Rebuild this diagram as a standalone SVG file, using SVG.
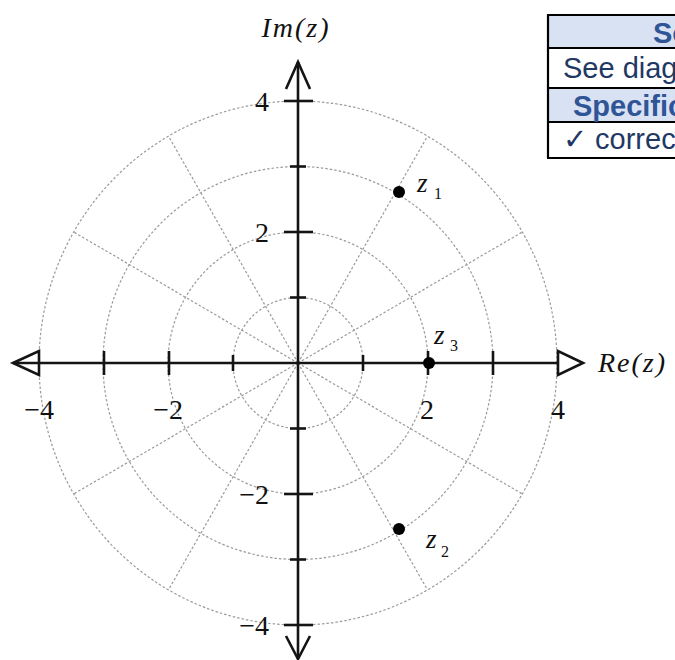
<svg xmlns="http://www.w3.org/2000/svg" width="675" height="660" viewBox="0 0 675 660">
<style>
.grid{fill:none;stroke:#9a9a9a;stroke-width:1.2;stroke-dasharray:2.5 2}
.ax{stroke:#141414;stroke-width:2.6;fill:none}
.tk{stroke:#141414;stroke-width:2.6}
.num{font-family:"Liberation Serif",serif;font-size:28px;fill:#111}
.lab{font-family:"Liberation Serif",serif;font-style:italic;font-size:28px;fill:#111;letter-spacing:2px}
.zl{font-family:"Liberation Serif",serif;font-style:italic;font-size:27px;fill:#111}
.zs{font-family:"Liberation Serif",serif;font-size:16px;fill:#111}
.pt{fill:#000}
.th{font-family:"Liberation Sans",Arial,sans-serif;font-weight:bold;font-size:29px;fill:#2f5597}
.td{font-family:"Liberation Sans",Arial,sans-serif;font-size:29px;fill:#1f3864}
</style>
<rect width="675" height="660" fill="#fff"/>
<g id="grid">
<ellipse class="grid" cx="298" cy="363" rx="65" ry="65.5"/>
<ellipse class="grid" cx="298" cy="363" rx="130" ry="131"/>
<ellipse class="grid" cx="298" cy="363" rx="195" ry="196.5"/>
<ellipse class="grid" cx="298" cy="363" rx="259" ry="262"/>
<line class="grid" x1="298" y1="363" x2="522.3" y2="232"/>
<line class="grid" x1="298" y1="363" x2="427.5" y2="136.1"/>
<line class="grid" x1="298" y1="363" x2="168.5" y2="136.1"/>
<line class="grid" x1="298" y1="363" x2="73.7" y2="232"/>
<line class="grid" x1="298" y1="363" x2="73.7" y2="494"/>
<line class="grid" x1="298" y1="363" x2="168.5" y2="589.9"/>
<line class="grid" x1="298" y1="363" x2="427.5" y2="589.9"/>
<line class="grid" x1="298" y1="363" x2="522.3" y2="494"/>
</g>
<g id="axes">
<line class="ax" x1="13" y1="363" x2="558" y2="363"/>
<polygon class="ax" points="13,363 39,351 39,375"/>
<polygon class="ax" points="583,363 558,351 558,375" style="fill:#fff"/>
<line class="ax" x1="298" y1="62" x2="298" y2="659"/>
<polyline class="ax" points="286,89 298,62 310,89"/>
<polyline class="ax" points="286,636 298,659 310,636"/>
<line class="tk" x1="104" y1="351" x2="104" y2="375"/>
<line class="tk" x1="169" y1="351" x2="169" y2="375"/>
<line class="tk" x1="233" y1="355" x2="233" y2="371"/>
<line class="tk" x1="363" y1="355" x2="363" y2="371"/>
<line class="tk" x1="428" y1="351" x2="428" y2="375"/>
<line class="tk" x1="493" y1="351" x2="493" y2="375"/>
<line class="tk" x1="284" y1="101" x2="313" y2="101"/>
<line class="tk" x1="290" y1="166.5" x2="306" y2="166.5"/>
<line class="tk" x1="284" y1="232" x2="313" y2="232"/>
<line class="tk" x1="290" y1="297.5" x2="306" y2="297.5"/>
<line class="tk" x1="290" y1="428.5" x2="306" y2="428.5"/>
<line class="tk" x1="284" y1="494" x2="313" y2="494"/>
<line class="tk" x1="290" y1="559.5" x2="306" y2="559.5"/>
<line class="tk" x1="284" y1="625" x2="313" y2="625"/>
</g>
<g id="labels">
<text class="num" x="269" y="111" text-anchor="end">4</text>
<text class="num" x="269" y="242" text-anchor="end">2</text>
<text class="num" x="269" y="504" text-anchor="end">−2</text>
<text class="num" x="269" y="635" text-anchor="end">−4</text>
<text class="num" x="54" y="419" text-anchor="end">−4</text>
<text class="num" x="183" y="419" text-anchor="end">−2</text>
<text class="num" x="427" y="419" text-anchor="middle">2</text>
<text class="num" x="558" y="419" text-anchor="middle">4</text>
<text class="lab" x="296" y="37" text-anchor="middle">Im(z)</text>
<text class="lab" x="598" y="372">Re(z)</text>
</g>
<g id="z1"><circle class="pt" cx="399" cy="192" r="6"/><text class="zl" x="417" y="192">z</text><text class="zs" x="434" y="199">1</text></g>
<g id="z2"><circle class="pt" cx="399" cy="529" r="6"/><text class="zl" x="426" y="548">z</text><text class="zs" x="441" y="557">2</text></g>
<g id="z3"><circle class="pt" cx="429" cy="363" r="6"/><text class="zl" x="434" y="344">z</text><text class="zs" x="450" y="351">3</text></g>
<g id="table">
<rect x="547" y="15" width="150" height="33" fill="#d9e2f3"/>
<rect x="547" y="88" width="150" height="34" fill="#d9e2f3"/>
<path d="M547,15H700M547,48H700M547,88H700M547,122H700M547,158H700M548,15V158" stroke="#000" stroke-width="2.2" fill="none"/>
<text class="th" x="653" y="43">Solution</text>
<text class="td" x="563" y="78">See diagram</text>
<text class="th" x="573" y="116">Specification</text>
<text class="td" x="563" y="149">✓ correct</text>
</g>
</svg>
